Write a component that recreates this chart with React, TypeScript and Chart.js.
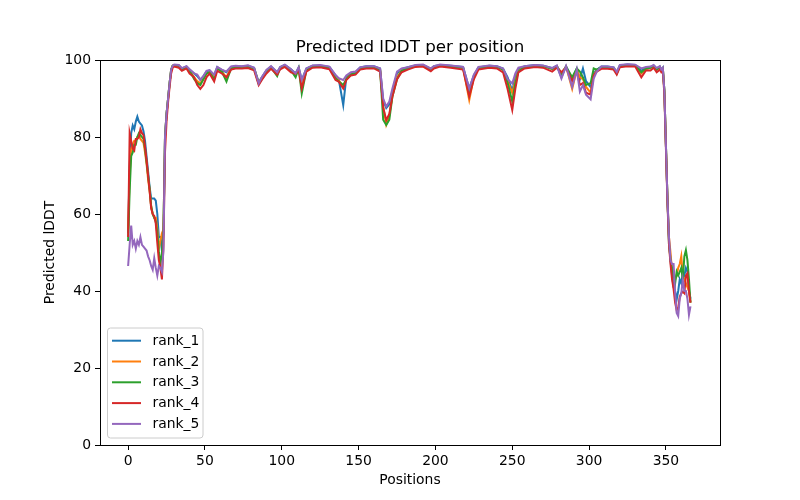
import React, { useEffect, useRef } from "react";
import { Chart, registerables } from "chart.js";

Chart.register(...registerables);

const TITLE = "Predicted lDDT per position";
const X_LABEL = "Positions";
const Y_LABEL = "Predicted lDDT";
const X_TICKS = [0, 50, 100, 150, 200, 250, 300, 350];
const Y_TICKS = [0, 20, 40, 60, 80, 100];
const SERIES_NAMES = ["rank_1", "rank_2", "rank_3", "rank_4", "rank_5"];
const SERIES_COLORS = ["#1f77b4", "#ff7f0e", "#2ca02c", "#d62728", "#9467bd"];

const POSITIONS = [
  0, 1, 2, 3, 4, 5, 6, 7, 8, 9, 10, 11, 12, 13, 14, 15, 16, 17, 18, 19, 20, 21, 22, 23, 24, 25, 26, 27, 28, 29,
  30, 33, 35, 38, 40, 43, 45, 47, 49, 51,
  53, 56, 58, 61, 64, 67, 70, 74, 78, 82,
  85, 87, 90, 93, 97, 99, 102, 106, 109, 111,
  113, 116, 120, 125, 131, 135, 137, 140, 142, 145,
  148, 151, 155, 160, 164, 166, 168, 170, 172, 175,
  178, 182, 187, 192, 197, 199, 203, 210, 218, 222,
  225, 228, 235, 240, 244, 247, 250, 252, 254, 258,
  265, 270, 276, 279, 282, 285, 289, 292, 294, 296,
  298, 301, 303, 305, 308, 312, 316, 318, 320, 325,
  330, 334, 337, 340, 342, 344, 346, 347, 348,
  349, 350, 351, 352, 353, 354, 355, 356, 357, 358, 359, 360, 361, 362, 363, 364, 365, 366,
];

const RANK_1 = [
  55, 72, 81, 83, 82, 84, 85.3, 84, 83.5, 83, 81.5, 79, 75, 71, 67, 64, 64, 64, 63.5, 60, 54, 54, 50.5, 55, 80, 86, 90, 94, 97.5, 98.5,
  98.7, 98.6, 97.8, 98.3, 97.5, 96.5, 95.8, 94.8, 95.8, 97,
  97.3, 96, 98.2, 97.4, 96.8, 98.2, 98.4, 98.3, 98.5, 98,
  94.2, 95.5, 97.3, 98.3, 96.8, 98.2, 98.7, 97.6, 96.5, 98.1,
  94.8, 97.8, 98.5, 98.6, 98.2, 96, 95.2, 88.3, 95.5, 96.5,
  96.8, 98.1, 98.4, 98.4, 97.8, 89.5, 87.5, 88.5, 91.8, 96.5,
  97.6, 98.1, 98.6, 98.7, 97.7, 98.4, 98.7, 98.5, 98.2, 92.6,
  96, 98.1, 98.5, 98.4, 97.8, 95.5, 92, 95.5, 97.5, 98.4,
  98.7, 98.5, 97.9, 98.5, 95.5, 98.4, 95, 97.8, 95, 97.8,
  94.5, 93, 96.5, 97.5, 98.3, 98.3, 98.1, 96.8, 98.6, 98.8,
  98.7, 97.2, 98, 98.2, 98.6, 97.8, 98.3, 97.5, 98,
  92, 78, 64, 53, 48, 44, 41, 40, 37.8, 40, 43, 42, 44.6, 44, 46, 45, 40, 38,
];

const RANK_2 = [
  56, 70, 77, 78, 79, 79, 80, 80.5, 79.5, 79, 78.5, 76, 73, 69, 66, 62, 60, 59, 59, 56, 51, 53, 55, 56, 80, 86, 90, 94, 97.5, 98.5,
  98.7, 98.5, 97.6, 98.2, 97.3, 95.5, 94.5, 94, 95, 96.5,
  96.8, 95.5, 97.8, 97, 95.5, 98, 98.2, 98.2, 98.3, 97.8,
  94, 95.3, 97, 98.1, 96.5, 98, 98.6, 97.3, 96.2, 97.8,
  93.5, 97.5, 98.3, 98.4, 98, 95.5, 94.8, 93, 95, 96.3,
  96.5, 97.8, 98.2, 98.2, 97.5, 88, 83.2, 85.5, 91, 95.5,
  97.3, 97.9, 98.5, 98.6, 97.5, 98.2, 98.6, 98.3, 98, 89.6,
  95.5, 97.9, 98.4, 98.2, 97.5, 94.5, 91.5, 94.5, 97.2, 98.2,
  98.5, 98.4, 97.7, 98.4, 96.5, 98.3, 92.5, 97.5, 95.5, 95,
  93, 91.5, 96, 97.2, 98.1, 98.1, 97.9, 96.5, 98.4, 98.7,
  98.6, 96.5, 97.6, 98, 98.4, 97.5, 98.1, 97.3, 97.8,
  92, 78, 64, 54, 50, 45, 45, 43, 44, 46, 47, 49, 44, 43, 42, 41, 40, 37,
];

const RANK_3 = [
  53, 66, 75, 76, 78, 78, 80, 81, 80.5, 80, 79.5, 77, 73.5, 70, 66.5, 62, 60, 59, 58, 55, 50, 47, 50, 56, 80, 86, 90, 94, 97.5, 98.5,
  98.7, 98.5, 97.6, 98.2, 97.3, 95, 94, 93.5, 95, 96.5,
  96.8, 95, 97.8, 97, 94.4, 97.8, 98.2, 98.2, 98.3, 97.8,
  93.8, 95, 97, 98.1, 95.8, 98, 98.6, 97.3, 95.5, 97.8,
  91.3, 97.3, 98.3, 98.4, 98, 95.3, 94.5, 93.5, 95, 96.3,
  96.5, 97.8, 98.2, 98.2, 97.3, 84.5, 83.1, 84.5, 90.5, 95,
  97.2, 97.9, 98.5, 98.6, 97.5, 98.2, 98.6, 98.3, 98, 91,
  95.5, 97.9, 98.4, 98.2, 97.5, 94, 89.2, 94, 97, 98.2,
  98.5, 98.4, 97.7, 98.4, 96.5, 98.3, 95.5, 97.8, 97, 95.5,
  93.5, 94, 97.8, 97.5, 98.1, 98.1, 97.9, 96.5, 98.4, 98.7,
  98.6, 96.8, 97.8, 98, 98.4, 97.5, 98.1, 97.3, 97.8,
  92, 78, 64, 52, 48, 46, 44, 42, 45, 44, 45, 46, 43, 49, 50.6, 48, 43, 37,
];

const RANK_4 = [
  54, 81, 79, 77, 76.5, 79.5, 79.5, 80, 82, 81, 80.5, 77.5, 74, 70, 66, 61.5, 60, 59.5, 57.5, 52.5, 48, 46, 43, 52, 76, 84, 89, 93, 96.5, 98,
  98.3, 98, 97.2, 97.8, 96.5, 95.5, 93.5, 92.5, 93.5, 95.5,
  96.5, 94.4, 97.2, 96.5, 95.5, 97.5, 97.8, 97.8, 97.9, 97.3,
  93.5, 94.8, 96.5, 97.7, 96.2, 97.6, 98.2, 96.8, 96.4, 97.5,
  92.6, 97, 98, 98.1, 97.6, 94.8, 94.4, 92.6, 94.8, 96,
  96.2, 97.5, 97.8, 97.8, 97, 87.6, 84.4, 86, 90.5, 95,
  96.8, 97.5, 98.2, 98.3, 97.1, 97.8, 98.3, 98, 97.5, 90.5,
  95, 97.5, 98, 97.8, 96.8, 92.4, 87, 92.5, 96.8, 97.8,
  98.2, 98, 97, 98, 96.8, 98, 94.5, 97, 93.5, 94,
  91.5, 91, 96, 97, 97.7, 97.7, 97.5, 96.2, 98.1, 98.4,
  98.3, 95.5, 97.3, 97.3, 98, 96.8, 97.5, 96.8, 97.3,
  91, 77, 63, 52, 47, 43, 40.5, 37, 35, 35.6, 38.5, 39.4, 39.8, 39.4, 44, 44.6, 40, 37,
];

const RANK_5 = [
  46.5, 52, 57, 52, 53, 51, 53, 52, 54, 52, 51.5, 51, 50.5, 49, 48, 46.5, 45.5, 48.5, 46, 44, 46.5, 46, 45, 50.6, 80, 86, 90, 94, 97.5, 98.5,
  98.8, 98.7, 97.9, 98.4, 97.6, 96.5, 96.2, 94.9, 95.8, 97.2,
  97.4, 96.2, 98.2, 97.5, 97, 98.3, 98.5, 98.4, 98.6, 98,
  93.9, 95.5, 97.4, 98.4, 96.8, 98.2, 98.8, 97.6, 96.5, 98.1,
  94.8, 97.8, 98.6, 98.7, 98.3, 96.1, 95.3, 94.8, 96, 96.8,
  97, 98.1, 98.4, 98.4, 97.8, 90, 87.9, 89.2, 92.6, 97,
  97.8, 98.1, 98.7, 98.8, 97.8, 98.4, 98.8, 98.6, 98.2, 92.6,
  96.2, 98.2, 98.6, 98.4, 97.8, 95, 93.9, 96.5, 98, 98.4,
  98.7, 98.6, 97.9, 98.6, 95.2, 98.4, 93, 97.5, 91.8, 93.5,
  91, 89.8, 95.2, 97, 98.3, 98.3, 98.1, 96.9, 98.7, 98.9,
  98.8, 97.8, 98.2, 98.3, 98.7, 97.9, 98.4, 97.5, 98,
  92, 78, 64, 54, 48, 47, 47, 39.4, 34.3, 33.5, 38, 39.4, 42.9, 40, 40, 38, 33.8, 36,
];

const SERIES = [RANK_1, RANK_2, RANK_3, RANK_4, RANK_5];

const FONT = "'DejaVu Sans', sans-serif";

const decorPlugin = {
  id: "decor",
  afterDraw(chart: any) {
    const ctx = chart.ctx;
    const a = chart.chartArea;
    ctx.save();
    // frame
    ctx.strokeStyle = "#000";
    ctx.lineWidth = 1;
    ctx.strokeRect(Math.round(a.left) + 0.5, Math.round(a.top) + 0.5, Math.round(a.right - a.left), Math.round(a.bottom - a.top));
    // title
    ctx.fillStyle = "#000";
    ctx.font = `16.7px ${FONT}`;
    ctx.textAlign = "center";
    ctx.textBaseline = "alphabetic";
    ctx.fillText(TITLE, (a.left + a.right) / 2, a.top - 8.5);
    // axis labels
    ctx.font = `13.9px ${FONT}`;
    ctx.textBaseline = "middle";
    ctx.fillText(X_LABEL, (a.left + a.right) / 2, 480);
    ctx.save();
    ctx.translate(50, (a.top + a.bottom) / 2);
    ctx.rotate(-Math.PI / 2);
    ctx.fillText(Y_LABEL, 0, 0);
    ctx.restore();
    // legend
    const ds = chart.data.datasets;
    const bx = a.left + 7.5;
    const by = 328;
    const bw = 95.5;
    const bh = 110;
    const r = 3;
    ctx.beginPath();
    ctx.moveTo(bx + r, by);
    ctx.lineTo(bx + bw - r, by);
    ctx.quadraticCurveTo(bx + bw, by, bx + bw, by + r);
    ctx.lineTo(bx + bw, by + bh - r);
    ctx.quadraticCurveTo(bx + bw, by + bh, bx + bw - r, by + bh);
    ctx.lineTo(bx + r, by + bh);
    ctx.quadraticCurveTo(bx, by + bh, bx, by + bh - r);
    ctx.lineTo(bx, by + r);
    ctx.quadraticCurveTo(bx, by, bx + r, by);
    ctx.closePath();
    ctx.fillStyle = "rgba(255,255,255,0.8)";
    ctx.fill();
    ctx.strokeStyle = "#cccccc";
    ctx.lineWidth = 1;
    ctx.stroke();
    ctx.textAlign = "left";
    ctx.textBaseline = "middle";
    ds.forEach((d: any, i: number) => {
      const cy = 340.7 + i * 20.8;
      ctx.strokeStyle = d.borderColor;
      ctx.lineWidth = 2;
      ctx.beginPath();
      ctx.moveTo(bx + 4.5, cy);
      ctx.lineTo(bx + 33.5, cy);
      ctx.stroke();
      ctx.fillStyle = "#000";
      ctx.font = `13.9px ${FONT}`;
      ctx.fillText(d.label, bx + 45, cy + 0.5);
    });
    ctx.restore();
  },
};

export default function App() {
  const ref = useRef<HTMLCanvasElement | null>(null);
  useEffect(() => {
    if (!ref.current) return;
    const datasets = SERIES.map((vals, i) => ({
      label: SERIES_NAMES[i],
      data: POSITIONS.map((x, j) => ({ x, y: vals[j] })),
      borderColor: SERIES_COLORS[i],
      backgroundColor: SERIES_COLORS[i],
      borderWidth: 2,
      pointRadius: 0,
      tension: 0,
      fill: false,
      order: SERIES.length - 1 - i,
    }));
    const chart = new Chart(ref.current, {
      type: "line",
      data: { datasets },
      plugins: [decorPlugin],
      options: {
        animation: false,
        responsive: false,
        maintainAspectRatio: false,
        layout: { padding: { top: 60, right: 80, left: 0, bottom: 0 } },
        plugins: { legend: { display: false }, title: { display: false }, tooltip: { enabled: false } },
        scales: {
          x: {
            type: "linear",
            min: -18.3,
            max: 385.2,
            afterFit: (s: any) => {
              s.height = 55;
            },
            afterBuildTicks: (s: any) => {
              s.ticks = X_TICKS.map((v) => ({ value: v }));
            },
            grid: { drawOnChartArea: false, drawTicks: true, tickLength: 5, tickColor: "#000", tickWidth: 1 },
            border: { display: true, color: "#000", width: 1 },
            ticks: { color: "#000", padding: 3, font: { family: FONT, size: 13.9 }, maxRotation: 0, autoSkip: false },
          },
          y: {
            type: "linear",
            min: 0,
            max: 100,
            afterFit: (s: any) => {
              s.width = 100;
            },
            afterBuildTicks: (s: any) => {
              s.ticks = Y_TICKS.map((v) => ({ value: v }));
            },
            grid: { drawOnChartArea: false, drawTicks: true, tickLength: 5, tickColor: "#000", tickWidth: 1 },
            border: { display: true, color: "#000", width: 1 },
            ticks: { color: "#000", padding: 4, font: { family: FONT, size: 13.9 }, autoSkip: false },
          },
        },
      },
    });
    return () => chart.destroy();
  }, []);
  return (
    <div style={{ position: "absolute", left: 0, top: 0, width: 800, height: 500, background: "#fff" }}>
      <canvas ref={ref} width={800} height={500} style={{ width: 800, height: 500 }} />
    </div>
  );
}
